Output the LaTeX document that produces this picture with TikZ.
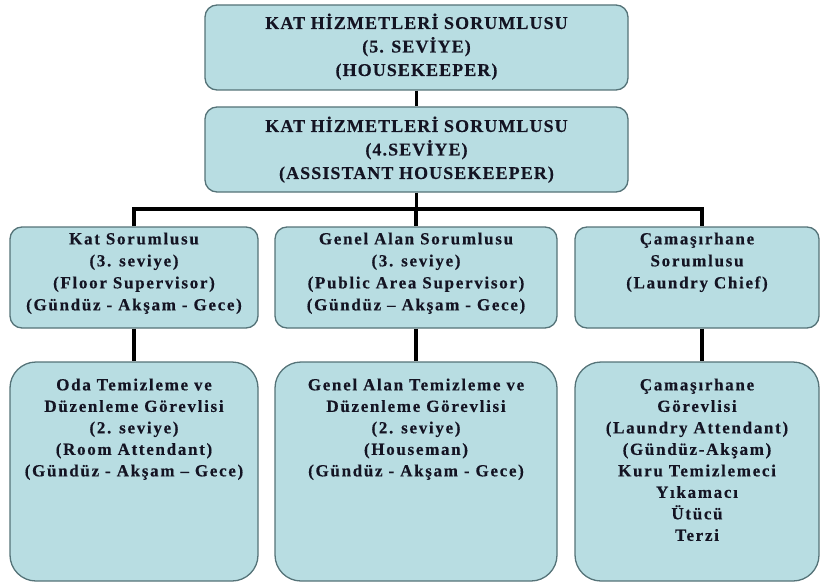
\documentclass[tikz,border=0pt]{standalone}
\usepackage{fontspec}
\setmainfont{Liberation Serif}
\newfontfamily\topfont{Liberation Serif}[LetterSpace=6, FakeBold=0.3]
\newfontfamily\lowfont{Liberation Serif}[LetterSpace=10, FakeBold=0.3]
\definecolor{boxfill}{RGB}{184,221,226}
\definecolor{boxline}{RGB}{85,115,120}
\definecolor{ink}{RGB}{20,20,35}
\begin{document}
\begin{tikzpicture}[x=1pt,y=-1pt,
  box/.style={draw=boxline, line width=1.3pt, fill=boxfill, rounded corners=12pt, inner sep=0pt},
  bigbox/.style={box, rounded corners=26pt},
  txt/.style={text=ink, font=\lowfont\fontsize{17}{21.5}\selectfont\bfseries, align=center, inner sep=0pt, anchor=north},
  toptxt/.style={txt, font=\topfont\fontsize{18}{23.5}\selectfont\bfseries},
  midtxt/.style={txt, font=\lowfont\fontsize{17}{22}\selectfont\bfseries},
  conn/.style={line width=3.2pt, black}]
\useasboundingbox (0,0) rectangle (821,583);
% boxes
\node[box, minimum width=423pt, minimum height=85pt] (t1) at (416.5,47.5) {};
\node[box, minimum width=423pt, minimum height=85pt] (t2) at (416.5,149.5) {};
\node[box, minimum width=248pt, minimum height=101pt] (m1) at (134,277.5) {};
\node[box, minimum width=282pt, minimum height=101pt] (m2) at (416,277.5) {};
\node[box, minimum width=244pt, minimum height=101pt] (m3) at (697,277.5) {};
\node[bigbox, minimum width=248pt, minimum height=219pt] (b1) at (134,471.5) {};
\node[bigbox, minimum width=282pt, minimum height=219pt] (b2) at (416,471.5) {};
\node[bigbox, minimum width=244pt, minimum height=219pt] (b3) at (697,471.5) {};
% texts
\node[toptxt] (t1l) at ([yshift=-9pt]t1.north) {KAT HİZMETLERİ SORUMLUSU\\(5. SEVİYE)\\(HOUSEKEEPER)};
\node[toptxt] (t2l) at ([yshift=-10pt]t2.north) {KAT HİZMETLERİ SORUMLUSU\\(4.SEVİYE)\\(ASSISTANT HOUSEKEEPER)};
\node[midtxt] (m1l) at ([yshift=-6pt]m1.north) {Kat Sorumlusu\\(3. seviye)\\(Floor Supervisor)\\(Gündüz - Akşam - Gece)};
\node[midtxt] (m2l) at ([yshift=-6pt]m2.north) {Genel Alan Sorumlusu\\(3. seviye)\\(Public Area Supervisor)\\(Gündüz – Akşam - Gece)};
\node[midtxt] (m3l) at ([yshift=-6pt]m3.north) {Çamaşırhane\\Sorumlusu\\(Laundry Chief)};
\node[txt] (b1l) at ([yshift=-17pt]b1.north) {Oda Temizleme ve\\Düzenleme Görevlisi\\(2. seviye)\\(Room Attendant)\\(Gündüz - Akşam – Gece)};
\node[txt] (b2l) at ([yshift=-17pt]b2.north) {Genel Alan Temizleme ve\\Düzenleme Görevlisi\\(2. seviye)\\(Houseman)\\(Gündüz - Akşam - Gece)};
\node[txt] (b3l) at ([yshift=-17pt]b3.north) {Çamaşırhane\\Görevlisi\\(Laundry Attendant)\\(Gündüz-Akşam)\\Kuru Temizlemeci\\Yıkamacı\\Ütücü\\Terzi};
% connectors
\coordinate (bar) at (416,209);
\draw[conn] (t1.south) -- (t2.north);
\draw[conn] (t2.south) -- (t2.south |- bar);
\draw[conn] (m1.north) -- (m1.north |- bar) -- ([xshift=5pt]m3.north |- bar) -- ([xshift=5pt]m3.north);
\draw[conn] (m2.north |- bar) -- (m2.north);
\draw[conn] (m1.south) -- (b1.north);
\draw[conn] (m2.south) -- (b2.north);
\draw[conn] ([xshift=5pt]m3.south) -- ([xshift=5pt]b3.north);
\end{tikzpicture}
\end{document}
